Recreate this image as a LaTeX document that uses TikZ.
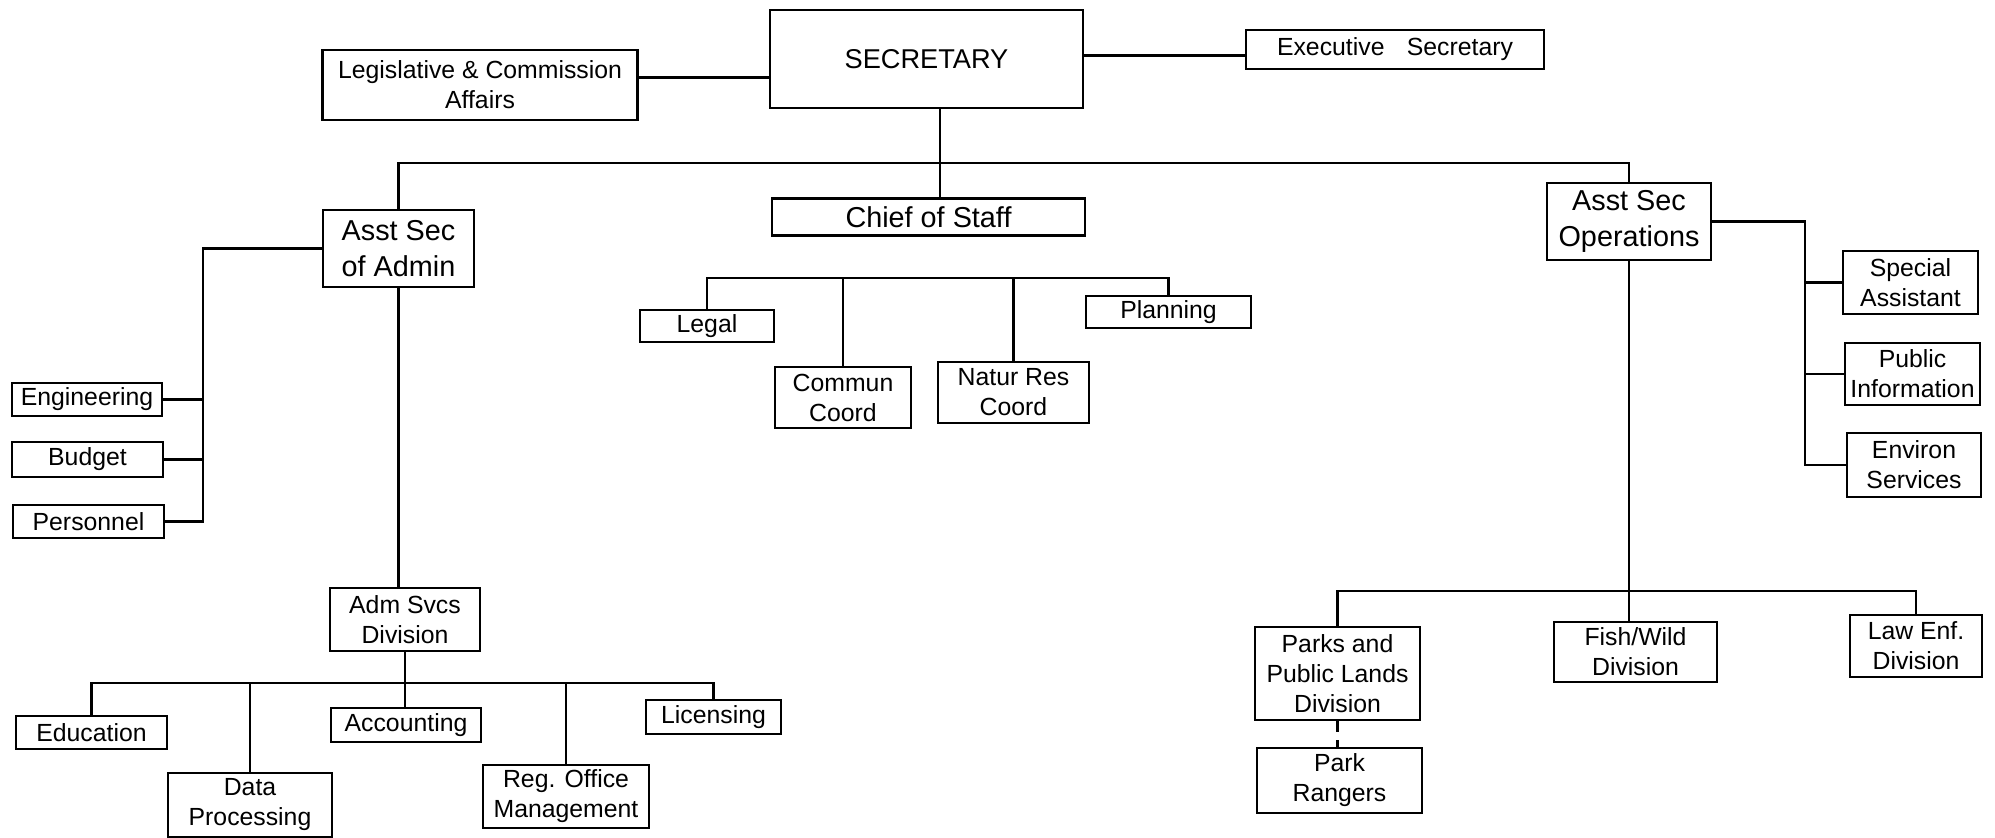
\documentclass[tikz,border=0pt]{standalone}
\usepackage{fontspec}
\setmainfont{Liberation Sans}
\usepackage{tikz}

\begin{document}
\begin{tikzpicture}[x=0.5pt, y=-0.5pt, line width=1.1pt,
    unit/.style={draw, inner sep=0pt, align=center, font=\fontsize{12.4}{15}\selectfont},
    head/.style={unit, font=\fontsize{14.4}{18}\selectfont},
    boxsize/.style 2 args={minimum width=#1*0.5pt, minimum height=#2*0.5pt}]
    \useasboundingbox (0,0) rectangle (1995,838);

    % Top row
    \node[unit, boxsize={315}{70}] (legis) at (480,85) {Legislative \& Commission\\Affairs};
    \node[unit, boxsize={313}{98}, font=\fontsize{13.6}{16}\selectfont] (sec) at (926.5,59) {SECRETARY};
    \node[unit, boxsize={298}{39}] (exec) at (1395,49.5) {Executive\hspace{0.9em}Secretary};

    % Second row
    \node[head, boxsize={151}{77}] (admin) at (398.5,248.5) {Asst Sec\\of Admin};
    \node[head, boxsize={313}{37}] (chief) at (928.5,217) {Chief of Staff};
    \node[head, boxsize={164}{77}] (ops) at (1629,221.5) {Asst Sec\\Operations};

    % Chief of Staff units
    \node[unit, boxsize={134}{32}] (legal) at (707,326) {Legal};
    \node[unit, boxsize={136}{61}] (commun) at (843,397.5) {Commun\\Coord};
    \node[unit, boxsize={151}{61}] (natur) at (1013.5,392.5) {Natur Res\\Coord};
    \node[unit, boxsize={165}{32}] (planning) at (1168.5,312) {Planning};

    % Admin staff
    \node[unit, boxsize={150}{33}] (eng) at (87,399.5) {Engineering};
    \node[unit, boxsize={151}{35}] (budget) at (87.5,459.5) {Budget};
    \node[unit, boxsize={151}{33}] (personnel) at (88.5,521.5) {Personnel};

    % Admin services
    \node[unit, boxsize={150}{63}] (adm) at (405,619.5) {Adm Svcs\\Division};
    \node[unit, boxsize={151}{33}] (education) at (91.5,732.5) {Education};
    \node[unit, boxsize={164}{64}] (data) at (250,805) {Data\\Processing};
    \node[unit, boxsize={150}{34}] (accounting) at (406,725) {Accounting};
    \node[unit, boxsize={166}{63}] (regoffice) at (566,796.5) {Reg. Office\\Management};
    \node[unit, boxsize={135}{34}] (licensing) at (713.5,717) {Licensing};

    % Operations staff
    \node[unit, boxsize={135}{63}] (special) at (1910.5,282.5) {Special\\Assistant};
    \node[unit, boxsize={135}{62}] (public) at (1912.5,374) {Public\\Information};
    \node[unit, boxsize={134}{64}] (environ) at (1914,465) {Environ\\Services};

    % Operations divisions
    \node[unit, boxsize={165}{93}] (parks) at (1337.5,673.5) {Parks and\\Public Lands\\Division};
    \node[unit, boxsize={165}{65}] (rangers) at (1339.5,780.5) {Park\\Rangers};
    \node[unit, boxsize={163}{60}] (fish) at (1635.5,652) {Fish/Wild\\Division};
    \node[unit, boxsize={132}{62}] (law) at (1916,646) {Law Enf.\\Division};

    % Bus lines
    \coordinate (mainbus) at (940,163);
    \coordinate (chiefbus) at (0,278);
    \coordinate (admbus) at (0,683);
    \coordinate (opsbus) at (0,591);
    \coordinate (adminbar) at (203,0);
    \coordinate (opsbar) at (1805,0);

    % Secretary links
    \draw ([yshift=3.75pt]legis.east) -- ([yshift=3.75pt]legis.east -| sec.west);
    \draw ([yshift=-3pt]exec.west) -- ([yshift=-3pt]exec.west -| sec.east);
    \draw ([xshift=6.75pt]sec.south) -- ([xshift=6.75pt]sec.south |- chief.north);
    \draw (admin.north) -- (admin.north |- mainbus) -| (ops.north);

    % Chief of Staff links
    \draw (legal.north) -- (legal.north |- chiefbus) -| (planning.north);
    \foreach \n in {commun,natur} {
        \draw (\n.north) -- (\n.north |- chiefbus);
    }

    % Admin links
    \draw (admin.west) -| (adminbar |- personnel.east) -- (personnel.east);
    \foreach \n in {eng,budget} {
        \draw (\n.east) -- (\n.east -| adminbar);
    }
    \draw (admin.south) -- (admin.south |- adm.north);
    \draw (adm.south) -- (adm.south |- accounting.north);
    \draw (education.north) -- (education.north |- admbus) -| (licensing.north);
    \foreach \n in {data,regoffice} {
        \draw (\n.north) -- (\n.north |- admbus);
    }

    % Operations links
    \draw (ops.east) -| (opsbar |- environ.west) -- (environ.west);
    \foreach \n in {special,public} {
        \draw (\n.west) -- (\n.west -| opsbar);
    }
    \draw (ops.south) -- (ops.south |- fish.north);
    \draw (parks.north) -- (parks.north |- opsbus) -| (law.north);
    \draw[dash pattern=on 5.5pt off 4pt] (parks.south) -- (parks.south |- rangers.north);
\end{tikzpicture}
\end{document}
